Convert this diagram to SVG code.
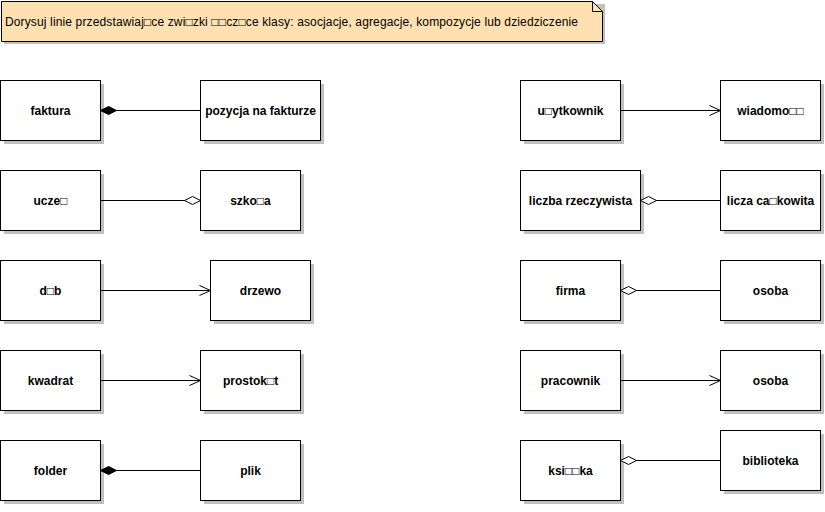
<svg xmlns="http://www.w3.org/2000/svg" width="825" height="512" viewBox="0 0 825 512">
<defs>
<style>
.box{fill:#fff;stroke:#000;stroke-width:1}
.sh{fill:#c0c0c0}
.t{font-family:"Liberation Sans","DejaVu Sans",Arial,sans-serif;font-size:12px;font-weight:bold;text-anchor:middle;fill:#000}
.n{font-family:"Liberation Sans","DejaVu Sans",Arial,sans-serif;font-size:12px;fill:#000}
.ln{stroke:#000;stroke-width:1;fill:none}
</style>
<marker id="fd" markerWidth="20" markerHeight="12" refX="1" refY="6" orient="auto" markerUnits="userSpaceOnUse"><path d="M1,6 L9,2 L17,6 L9,10 Z" fill="#000" stroke="#000"/></marker>
<marker id="hd" markerWidth="20" markerHeight="12" refX="1" refY="6" orient="auto" markerUnits="userSpaceOnUse"><path d="M1,6 L9,2 L17,6 L9,10 Z" fill="#fff" stroke="#000"/></marker>
<marker id="ar" markerWidth="13" markerHeight="13" refX="12" refY="6.5" orient="auto" markerUnits="userSpaceOnUse"><path d="M1,1.5 L12,6.5 L1,11.5" fill="none" stroke="#000"/></marker>
</defs>
<g id="note">
<path d="M4,4 H605 V44 H4 Z" class="sh"/>
<path d="M1.5,1.5 H592.5 L602.5,11.5 V41.5 H1.5 Z" fill="#ffe0b0" stroke="#000"/>
<path d="M592.5,1.5 V11.5 H602.5" fill="none" stroke="#000"/>
<text x="5" y="26" class="n" textLength="573" lengthAdjust="spacing">Dorysuj linie przedstawiaj□ce zwi□zki □□cz□ce klasy: asocjacje, agregacje, kompozycje lub dziedziczenie</text>
</g>
<g id="faktura"><rect x="4" y="84" width="100" height="60" class="sh"/><rect x="0.5" y="80.5" width="100" height="60" class="box"/><text x="50.5" y="115" class="t">faktura</text></g>
<g id="pozycja"><rect x="204" y="84" width="120" height="60" class="sh"/><rect x="200.5" y="80.5" width="120" height="60" class="box"/><text x="260.5" y="115" class="t">pozycja na fakturze</text></g>
<g id="uczen"><rect x="4" y="174" width="100" height="60" class="sh"/><rect x="0.5" y="170.5" width="100" height="60" class="box"/><text x="50.5" y="205" class="t">ucze□</text></g>
<g id="szkola"><rect x="204" y="174" width="100" height="60" class="sh"/><rect x="200.5" y="170.5" width="100" height="60" class="box"/><text x="250.5" y="205" class="t">szko□a</text></g>
<g id="dab"><rect x="4" y="264" width="100" height="60" class="sh"/><rect x="0.5" y="260.5" width="100" height="60" class="box"/><text x="50.5" y="295" class="t">d□b</text></g>
<g id="drzewo"><rect x="214" y="264" width="100" height="60" class="sh"/><rect x="210.5" y="260.5" width="100" height="60" class="box"/><text x="260.5" y="295" class="t">drzewo</text></g>
<g id="kwadrat"><rect x="4" y="354" width="100" height="60" class="sh"/><rect x="0.5" y="350.5" width="100" height="60" class="box"/><text x="50.5" y="385" class="t">kwadrat</text></g>
<g id="prostokat"><rect x="204" y="354" width="100" height="60" class="sh"/><rect x="200.5" y="350.5" width="100" height="60" class="box"/><text x="250.5" y="385" class="t">prostok□t</text></g>
<g id="folder"><rect x="4" y="444" width="100" height="60" class="sh"/><rect x="0.5" y="440.5" width="100" height="60" class="box"/><text x="50.5" y="475" class="t">folder</text></g>
<g id="plik"><rect x="204" y="444" width="100" height="60" class="sh"/><rect x="200.5" y="440.5" width="100" height="60" class="box"/><text x="250.5" y="475" class="t">plik</text></g>
<g id="uzytkownik"><rect x="524" y="84" width="100" height="60" class="sh"/><rect x="520.5" y="80.5" width="100" height="60" class="box"/><text x="570.5" y="115" class="t">u□ytkownik</text></g>
<g id="wiadomosc"><rect x="724" y="84" width="100" height="60" class="sh"/><rect x="720.5" y="80.5" width="100" height="60" class="box"/><text x="770.5" y="115" class="t">wiadomo□□</text></g>
<g id="liczba"><rect x="524" y="174" width="120" height="60" class="sh"/><rect x="520.5" y="170.5" width="120" height="60" class="box"/><text x="580.5" y="205" class="t">liczba rzeczywista</text></g>
<g id="calkowita"><rect x="724" y="174" width="100" height="60" class="sh"/><rect x="720.5" y="170.5" width="100" height="60" class="box"/><text x="770.5" y="205" class="t">licza ca□kowita</text></g>
<g id="firma"><rect x="524" y="264" width="100" height="60" class="sh"/><rect x="520.5" y="260.5" width="100" height="60" class="box"/><text x="570.5" y="295" class="t">firma</text></g>
<g id="osoba1"><rect x="724" y="264" width="100" height="60" class="sh"/><rect x="720.5" y="260.5" width="100" height="60" class="box"/><text x="770.5" y="295" class="t">osoba</text></g>
<g id="pracownik"><rect x="524" y="354" width="100" height="60" class="sh"/><rect x="520.5" y="350.5" width="100" height="60" class="box"/><text x="570.5" y="385" class="t">pracownik</text></g>
<g id="osoba2"><rect x="724" y="354" width="100" height="60" class="sh"/><rect x="720.5" y="350.5" width="100" height="60" class="box"/><text x="770.5" y="385" class="t">osoba</text></g>
<g id="ksiazka"><rect x="524" y="444" width="100" height="60" class="sh"/><rect x="520.5" y="440.5" width="100" height="60" class="box"/><text x="570.5" y="475" class="t">ksi□□ka</text></g>
<g id="biblioteka"><rect x="724" y="434" width="100" height="60" class="sh"/><rect x="720.5" y="430.5" width="100" height="60" class="box"/><text x="770.5" y="465" class="t">biblioteka</text></g>
<g id="connectors">
<line x1="100.5" y1="110.5" x2="200.5" y2="110.5" class="ln" marker-start="url(#fd)"/>
<line x1="200.5" y1="200.5" x2="100.5" y2="200.5" class="ln" marker-start="url(#hd)"/>
<line x1="100.5" y1="290.5" x2="210.5" y2="290.5" class="ln" marker-end="url(#ar)"/>
<line x1="100.5" y1="380.5" x2="200.5" y2="380.5" class="ln" marker-end="url(#ar)"/>
<line x1="100.5" y1="470.5" x2="200.5" y2="470.5" class="ln" marker-start="url(#fd)"/>
<line x1="620.5" y1="110.5" x2="720.5" y2="110.5" class="ln" marker-end="url(#ar)"/>
<line x1="640.5" y1="200.5" x2="720.5" y2="200.5" class="ln" marker-start="url(#hd)"/>
<line x1="620.5" y1="290.5" x2="720.5" y2="290.5" class="ln" marker-start="url(#hd)"/>
<line x1="620.5" y1="380.5" x2="720.5" y2="380.5" class="ln" marker-end="url(#ar)"/>
<line x1="620.5" y1="460.5" x2="720.5" y2="460.5" class="ln" marker-start="url(#hd)"/>
</g>
</svg>
